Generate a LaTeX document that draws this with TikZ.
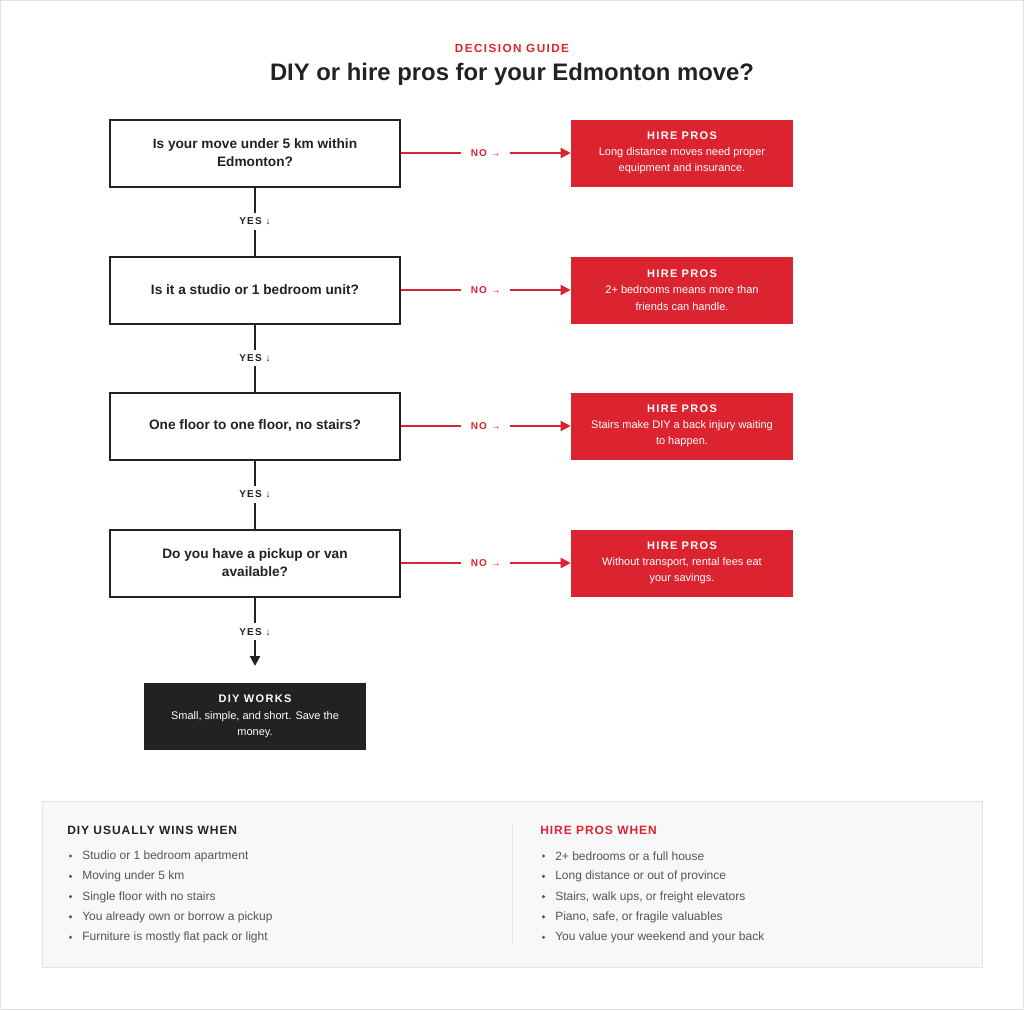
\documentclass[tikz,border=0pt]{standalone}
\usepackage{fontspec}
\setmainfont{Liberation Sans}
\newfontfamily\trackfont[LetterSpace=12]{Liberation Sans}
\newfontfamily\headfont[LetterSpace=8]{Liberation Sans}
\usetikzlibrary{arrows.meta}
\definecolor{brand}{HTML}{DC2430}
\definecolor{ink}{HTML}{222222}
\definecolor{bodygray}{HTML}{555555}
\definecolor{panel}{HTML}{F8F8F8}
\definecolor{panelline}{HTML}{E4E4E4}
\definecolor{framecol}{HTML}{E2E2E2}
\begin{document}
\begin{tikzpicture}[x=0.75pt,y=-0.75pt,
  question/.style={draw=ink, line width=1.5pt, fill=white, minimum width=217.5pt, minimum height=50.25pt,
     align=center, text=ink, font=\fontsize{10.25}{13.5}\selectfont\bfseries},
  probox/.style={fill=brand, minimum width=166.5pt, minimum height=50.25pt, align=center, text=white,
     font=\fontsize{8.25}{12.2}\selectfont},
  diybox/.style={fill=ink, minimum width=166.5pt, minimum height=50.25pt, align=center, text=white,
     font=\fontsize{8.25}{12.2}\selectfont},
  yesline/.style={draw=ink, line width=1.5pt},
  noline/.style={draw=brand, line width=1.5pt, -{Triangle[length=7.5pt,width=7.5pt]}},
  yeslabel/.style={fill=white, text=ink, inner xsep=2pt, inner ysep=3.5pt, font=\trackfont\bfseries\fontsize{7.5}{9}\selectfont},
  nolabel/.style={fill=white, text=brand, inner xsep=7pt, inner ysep=2pt, font=\trackfont\bfseries\fontsize{7.5}{9}\selectfont},
  listhead/.style={anchor=west, inner sep=0pt, font=\headfont\bfseries\fontsize{9}{11}\selectfont},
  listitem/.style={anchor=west, inner sep=0pt, text=bodygray, font=\fontsize{9}{11}\selectfont},
  bullet/.style={fill=bodygray}
]
\useasboundingbox (0,0) rectangle (1024,1010);
\draw[framecol, line width=0.75pt] (0.5,0.5) rectangle (1023.5,1009.5);

% heading
\node[text=brand, font=\trackfont\bfseries\fontsize{8.8}{10}\selectfont] (kicker) at (512,48) {DECISION GUIDE};
\node[text=ink, font=\bfseries\fontsize{17.9}{21}\selectfont] (title) at (512,74) {DIY or hire pros for your Edmonton move?};

% questions
\node[question] (q1) at (255,153) {Is your move under 5 km within\\Edmonton?};
\node[question] (q2) at (255,290) {Is it a studio or 1 bedroom unit?};
\node[question] (q3) at (255,426) {One floor to one floor, no stairs?};
\node[question] (q4) at (255,563) {Do you have a pickup or van\\available?};

% hire pros boxes
\node[probox] (r1) at (682,153) {{\trackfont\bfseries HIRE PROS}\\Long distance moves need proper\\equipment and insurance.};
\node[probox] (r2) at (682,290) {{\trackfont\bfseries HIRE PROS}\\2+ bedrooms means more than\\friends can handle.};
\node[probox] (r3) at (682,426) {{\trackfont\bfseries HIRE PROS}\\Stairs make DIY a back injury waiting\\to happen.};
\node[probox] (r4) at (682,563) {{\trackfont\bfseries HIRE PROS}\\Without transport, rental fees eat\\your savings.};

% DIY result
\node[diybox] (diy) at (255,716.5) {{\trackfont\bfseries DIY WORKS}\\Small, simple, and short. Save the\\money.};
\coordinate (tip) at (255,666);

% NO connectors
\draw[noline] (q1.east) -- node[nolabel] (n1) {NO →} (r1.west);
\draw[noline] (q2.east) -- node[nolabel] (n2) {NO →} (r2.west);
\draw[noline] (q3.east) -- node[nolabel] (n3) {NO →} (r3.west);
\draw[noline] (q4.east) -- node[nolabel] (n4) {NO →} (r4.west);

% YES connectors
\draw[yesline] (q1.south) -- node[yeslabel] (y1) {YES ↓} (q2.north);
\draw[yesline] (q2.south) -- node[yeslabel] (y2) {YES ↓} (q3.north);
\draw[yesline] (q3.south) -- node[yeslabel] (y3) {YES ↓} (q4.north);
\draw[yesline, -{Triangle[length=7.5pt,width=7.5pt]}] (q4.south) -- node[yeslabel] (y4) {YES ↓} (tip);

% bottom panel
\draw[fill=panel, draw=panelline, line width=0.75pt] (42,801) rectangle (982,967);
\draw[panelline, line width=0.75pt] (512,823) -- (512,945);

\node[listhead, text=ink] (lh) at (67,830.5) {DIY USUALLY WINS WHEN};
\node[listhead, text=brand] (rh) at (540,830.5) {HIRE PROS WHEN};

\foreach \t [count=\i] in {Studio or 1 bedroom apartment, Moving under 5 km, Single floor with no stairs, You already own or borrow a pickup, Furniture is mostly flat pack or light}{
  \fill[bullet] (70.5,{856+(\i-1)*20.3}) circle (1.7);
  \node[listitem] (l\i) at (82,{856.5+(\i-1)*20.3}) {\t};
}
\foreach \t [count=\i] in {2+ bedrooms or a full house, Long distance or out of province, {Stairs, walk ups, or freight elevators}, {Piano, safe, or fragile valuables}, You value your weekend and your back}{
  \fill[bullet] (543.5,{856+(\i-1)*20.3}) circle (1.7);
  \node[listitem] (p\i) at (555,{856.5+(\i-1)*20.3}) {\t};
}
\end{tikzpicture}
\end{document}
